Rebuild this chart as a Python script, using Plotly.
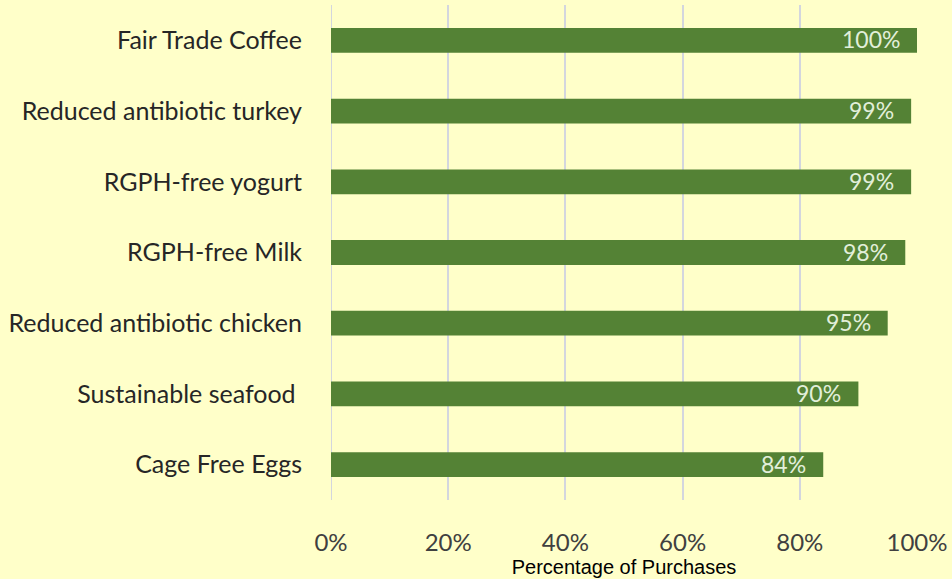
import plotly.graph_objects as go

categories = [
    "Fair Trade Coffee",
    "Reduced antibiotic turkey",
    "RGPH-free yogurt",
    "RGPH-free Milk",
    "Reduced antibiotic chicken",
    "Sustainable seafood\u00a0",
    "Cage Free Eggs",
]
values = [100, 99, 99, 98, 95, 90, 84]
tick_vals = [0, 20, 40, 60, 80, 100]
tick_text = ["0%", "20%", "40%", "60%", "80%", "100%"]

bg = "#FFFFC9"
bar_color = "#548235"

fig = go.Figure(
    go.Bar(
        y=categories,
        x=values,
        orientation="h",
        marker=dict(color=bar_color, line=dict(width=0)),
        width=0.35,
        hoverinfo="x+y",
    )
)

# value labels inside the bar ends
for cat, v in zip(categories, values):
    fig.add_annotation(
        x=v, y=cat, xref="x", yref="y",
        text=f"{v}%", showarrow=False,
        xanchor="right", xshift=-15, yshift=1,
        font=dict(family="Lato", size=23, color="#E2EFDA"),
    )

fig.update_layout(
    width=952,
    height=579,
    margin=dict(l=331, r=35, t=5, b=79),
    paper_bgcolor=bg,
    plot_bgcolor=bg,
    showlegend=False,
    xaxis=dict(
        range=[0, 100],
        tickvals=tick_vals,
        ticktext=tick_text,
        showgrid=True,
        gridcolor="#D3D6DE",
        gridwidth=2,
        zeroline=False,
        showline=False,
        ticks="",
        ticklabelstandoff=26,
        tickfont=dict(family="Lato", size=24, color="#404040"),
        title=dict(
            text="Percentage of Purchases",
            font=dict(family="Liberation Sans", size=20, color="#000000"),
            standoff=2,
        ),
    ),
    yaxis=dict(
        categoryorder="array",
        categoryarray=categories[::-1],
        showgrid=False,
        zeroline=False,
        showline=False,
        ticks="",
        ticklabelstandoff=28,
        tickfont=dict(family="Lato", size=25, color="#262626"),
    ),
)

fig.add_shape(
    type="line", xref="x", yref="paper", x0=0, x1=0, y0=0, y1=1,
    line=dict(color="#D3D6DE", width=2), layer="below",
)

fig.write_html("out.html")
